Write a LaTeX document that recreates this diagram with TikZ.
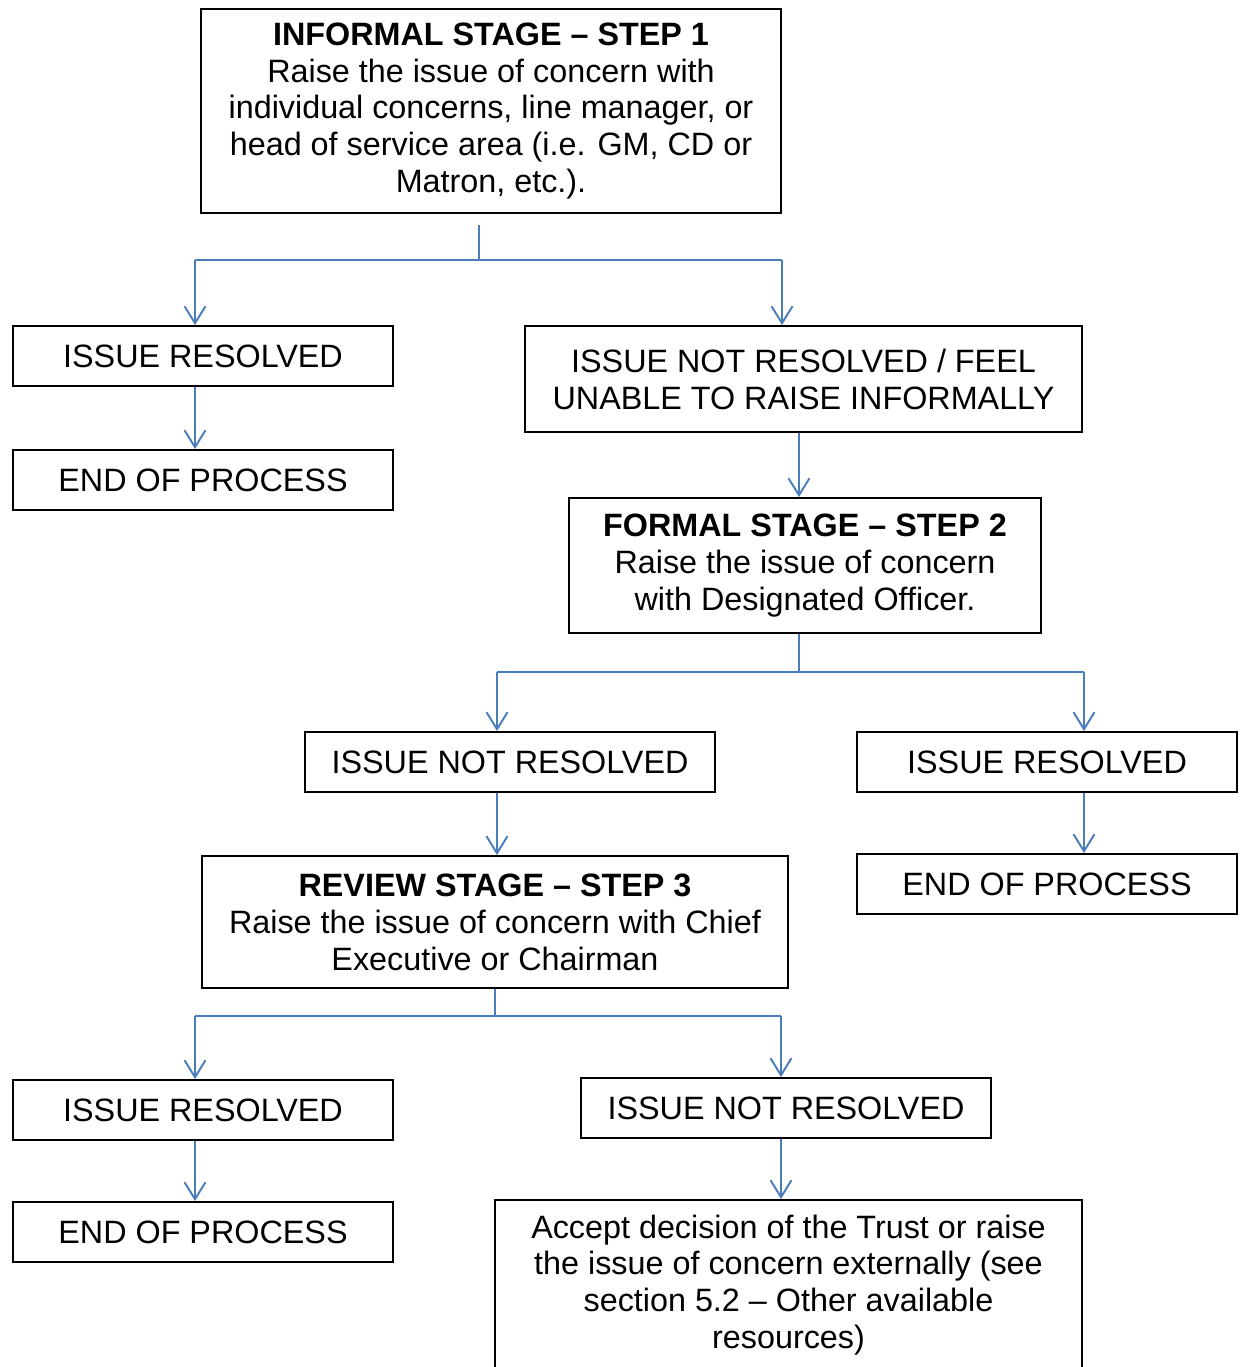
\documentclass[tikz,border=0pt]{standalone}
\usepackage{fontspec}
\setmainfont{Liberation Sans}
\usepackage{tikz}
\usetikzlibrary{arrows.meta, positioning}
\definecolor{flowblue}{HTML}{4A7EBB}

\tikzset{
  box/.style={draw, line width=1.1pt, align=center, inner sep=0pt, font=\fontsize{18.4}{21}\selectfont},
  flow/.style={draw=flowblue, line width=1.1pt},
  flowarrow/.style={flow, -{Straight Barb[length=0.34cm, width=0.42cm]}}
}

\begin{document}
\begin{tikzpicture}[x=0.02cm, y=-0.02cm]
  \path[use as bounding box, clip] (0,0) rectangle (1243,1367);

  % boxes
  \node[box, minimum width=11.6cm, minimum height=4.08cm] (step1) at (491,111)
    {\textbf{INFORMAL STAGE -- STEP 1}\\Raise the issue of concern with\\individual concerns, line manager, or\\head of service area (i.e. GM, CD or\\Matron, etc.).};
  \node[box, minimum width=7.6cm, minimum height=1.2cm] (res1) at (203,356) {ISSUE RESOLVED};
  \node[box, minimum width=7.6cm, minimum height=1.2cm] (end1) at (203,480) {END OF PROCESS};
  \node[box, minimum width=11.14cm, minimum height=2.12cm] (notres1) at (803.5,379)
    {ISSUE NOT RESOLVED / FEEL\\UNABLE TO RAISE INFORMALLY};
  \node[box, minimum width=9.44cm, minimum height=2.7cm] (formal) at (805,565.5)
    {\textbf{FORMAL STAGE -- STEP 2}\\Raise the issue of concern\\with Designated Officer.};
  \node[box, minimum width=8.2cm, minimum height=1.2cm] (notres2) at (510,762) {ISSUE NOT RESOLVED};
  \node[box, minimum width=7.6cm, minimum height=1.2cm] (res2) at (1047,762) {ISSUE RESOLVED};
  \node[box, minimum width=7.6cm, minimum height=1.2cm] (end2) at (1047,884) {END OF PROCESS};
  \node[box, minimum width=11.72cm, minimum height=2.64cm] (review) at (495,922)
    {\textbf{REVIEW STAGE -- STEP 3}\\Raise the issue of concern with Chief\\Executive or Chairman};
  \node[box, minimum width=7.6cm, minimum height=1.2cm] (res3) at (203,1110) {ISSUE RESOLVED};
  \node[box, minimum width=7.6cm, minimum height=1.2cm] (end3) at (203,1232) {END OF PROCESS};
  \node[box, minimum width=8.2cm, minimum height=1.2cm] (notres3) at (786,1108) {ISSUE NOT RESOLVED};
  \node[box, minimum width=11.74cm, minimum height=3.4cm] (accept) at (788.5,1285)
    {Accept decision of the Trust or raise\\the issue of concern externally (see\\section 5.2 -- Other available\\resources)};

  % branch points
  \coordinate (split1) at (479,260);
  \coordinate (left1) at (195,260);
  \coordinate (right1) at (782,260);
  \coordinate (mid2) at (799,466);
  \coordinate (split2) at (799,672);
  \coordinate (left2) at (497,672);
  \coordinate (right2) at (1084,672);
  \coordinate (split3) at (495,1016);
  \coordinate (left3) at (195,1016);
  \coordinate (right3) at (781,1016);

  % connectors
  \draw[flow, shorten <=0.22cm] (step1.south -| split1) -- (split1);
  \draw[flow] (left1) -- (right1);
  \draw[flowarrow] (left1) -- (res1.north -| left1);
  \draw[flowarrow] (right1) -- (notres1.north -| right1);
  \draw[flowarrow] (res1.south -| left1) -- (end1.north -| left1);
  \draw[flowarrow] (notres1.south -| mid2) -- (formal.north -| mid2);

  \draw[flow] (formal.south -| split2) -- (split2);
  \draw[flow] (left2) -- (right2);
  \draw[flowarrow] (left2) -- (notres2.north -| left2);
  \draw[flowarrow] (right2) -- (res2.north -| right2);
  \draw[flowarrow] (notres2.south -| left2) -- (review.north -| left2);
  \draw[flowarrow] (res2.south -| right2) -- (end2.north -| right2);

  \draw[flow] (review.south -| split3) -- (split3);
  \draw[flow] (left3) -- (right3);
  \draw[flowarrow] (left3) -- (res3.north -| left3);
  \draw[flowarrow] (right3) -- (notres3.north -| right3);
  \draw[flowarrow] (res3.south -| left3) -- (end3.north -| left3);
  \draw[flowarrow] (notres3.south -| right3) -- (accept.north -| right3);
\end{tikzpicture}
\end{document}
